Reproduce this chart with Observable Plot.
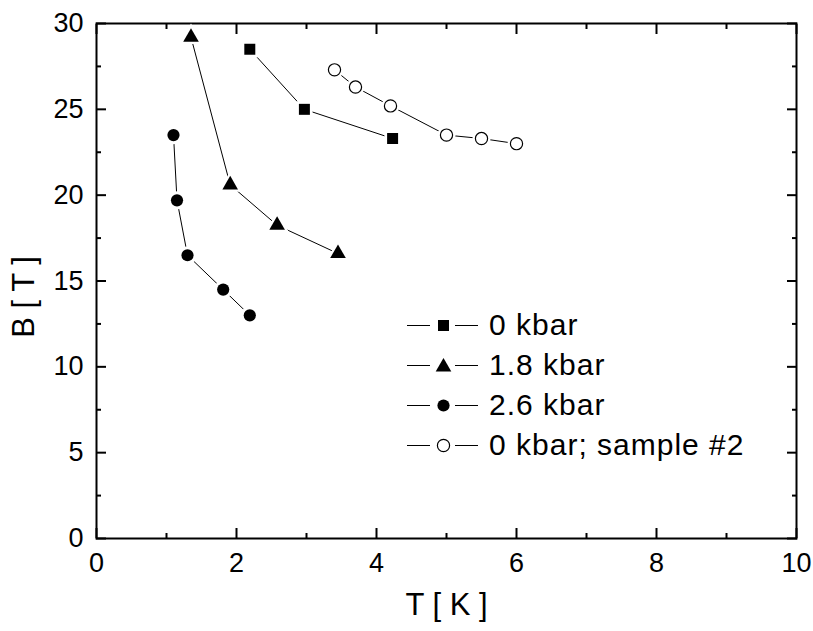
<!DOCTYPE html>
<html><head><meta charset="utf-8">
<script src="https://cdn.jsdelivr.net/npm/d3@7"></script>
<script src="https://cdn.jsdelivr.net/npm/@observablehq/plot@0.6"></script>
<style>
body{margin:0;background:#fff;}
#wrap{position:relative;width:813px;height:631px;font-family:"Liberation Sans",Arial,sans-serif;}
#legend{position:absolute;left:407px;top:305px;}
.row{display:flex;align-items:center;height:40px;font-size:30px;letter-spacing:1px;color:#000;white-space:nowrap;}
.row svg{margin-right:11px;}
</style></head><body><div id="wrap"></div>
<script>
// ---- data ----
const seriesNames = ["0 kbar", "1.8 kbar", "2.6 kbar", "0 kbar; sample #2"];
const seriesSymbols = ["square", "triangle", "circle", "circle"];
const seriesFills = ["black", "black", "black", "white"];

const T_0kbar = [2.19, 2.97, 4.23];
const B_0kbar = [28.5, 25.0, 23.3];
const T_18kbar = [1.35, 1.91, 2.58, 3.45];
const B_18kbar = [29.2, 20.6, 18.25, 16.6];
const T_26kbar = [1.10, 1.15, 1.30, 1.81, 2.19];
const B_26kbar = [23.5, 19.7, 16.5, 14.5, 13.0];
const T_0kbar2 = [3.40, 3.70, 4.20, 5.00, 5.50, 6.00];
const B_0kbar2 = [27.3, 26.3, 25.2, 23.5, 23.3, 23.0];

const xMajor = [0, 2, 4, 6, 8, 10];
const xMinor = [1, 3, 5, 7, 9];
const yMajor = [0, 5, 10, 15, 20, 25, 30];
const yMinor = [2.5, 7.5, 12.5, 17.5, 22.5, 27.5];
const xLabel = "T [ K ]";
const yLabel = "B [ T ]";

// ---- build ----
const Ts = [T_0kbar, T_18kbar, T_26kbar, T_0kbar2];
const Bs = [B_0kbar, B_18kbar, B_26kbar, B_0kbar2];
const radii = {square: 6.2, triangle: 5.8, circle: 6.1};
const series = seriesNames.map((name, i) => ({
  name, symbol: seriesSymbols[i], fill: seriesFills[i], r: radii[seriesSymbols[i]],
  data: Ts[i].map((t, j) => ({T: t, B: Bs[i][j]}))
}));

const font = '"Liberation Sans", Arial, sans-serif';
const marks = [];
// axes (inward ticks on all four sides)
const axOpt = {strokeWidth: 2, fontSize: 27, label: null};
marks.push(Plot.axisX({...axOpt, anchor: "bottom", ticks: xMajor, tickSize: -10, tickPadding: 24, tickFormat: d => String(d)}));
marks.push(Plot.axisX({...axOpt, anchor: "bottom", ticks: xMinor, tickSize: -5, tickFormat: () => ""}));
marks.push(Plot.axisX({...axOpt, anchor: "top", ticks: xMajor, tickSize: -10, tickFormat: () => ""}));
marks.push(Plot.axisX({...axOpt, anchor: "top", ticks: xMinor, tickSize: -5, tickFormat: () => ""}));
marks.push(Plot.axisY({...axOpt, anchor: "left", ticks: yMajor, tickSize: -10, tickPadding: 23, tickFormat: d => String(d)}));
marks.push(Plot.axisY({...axOpt, anchor: "left", ticks: yMinor, tickSize: -5, tickFormat: () => ""}));
marks.push(Plot.axisY({...axOpt, anchor: "right", ticks: yMajor, tickSize: -10, tickFormat: () => ""}));
marks.push(Plot.axisY({...axOpt, anchor: "right", ticks: yMinor, tickSize: -5, tickFormat: () => ""}));
marks.push(Plot.frame({stroke: "black", strokeWidth: 2}));
// axis titles
marks.push(Plot.text([xLabel], {frameAnchor: "bottom", dy: 67, text: d => d, fontSize: 31, textAnchor: "middle", lineAnchor: "middle"}));
marks.push(Plot.text([yLabel], {frameAnchor: "left", dx: -72, dy: 16, text: d => d, fontSize: 31, rotate: -90, textAnchor: "middle", lineAnchor: "middle"}));
// series
for (const s of series) {
  marks.push(Plot.line(s.data, {x: "T", y: "B", stroke: "black", strokeWidth: 1}));
}
for (const s of series) {
  marks.push(Plot.dot(s.data, {x: "T", y: "B", symbol: s.symbol, r: s.r + 3, fill: "white", stroke: "none"}));
  marks.push(Plot.dot(s.data, {x: "T", y: "B", symbol: s.symbol, r: s.r, fill: s.fill, stroke: "black", strokeWidth: s.fill === "white" ? 1.2 : 0}));
}

const chart = Plot.plot({
  width: 813, height: 631,
  marginLeft: 96, marginRight: 17, marginTop: 23, marginBottom: 93,
  style: {fontFamily: font, background: "white", color: "black"},
  x: {domain: [0, 10]},
  y: {domain: [0, 30]},
  marks
});
const wrap = document.getElementById("wrap");
wrap.appendChild(chart);

// legend overlay
const legend = document.createElement("div");
legend.id = "legend";
const symMap = {square: d3.symbolSquare, triangle: d3.symbolTriangle, circle: d3.symbolCircle};
for (const s of series) {
  const row = document.createElement("div");
  row.className = "row";
  const path = d3.symbol(symMap[s.symbol], Math.PI * s.r * s.r)();
  row.innerHTML = `<svg width="71" height="40"><line x1="0" x2="23" y1="20.5" y2="20.5" stroke="black" stroke-width="1"/><line x1="48" x2="71" y1="20.5" y2="20.5" stroke="black" stroke-width="1"/><path d="${path}" transform="translate(36.5,${s.symbol === 'triangle' ? 22 : 20.5})" fill="${s.fill}" stroke="black" stroke-width="${s.fill === 'white' ? 1.2 : 0}"/></svg><span>${s.name}</span>`;
  legend.appendChild(row);
}
wrap.appendChild(legend);
</script></body></html>
